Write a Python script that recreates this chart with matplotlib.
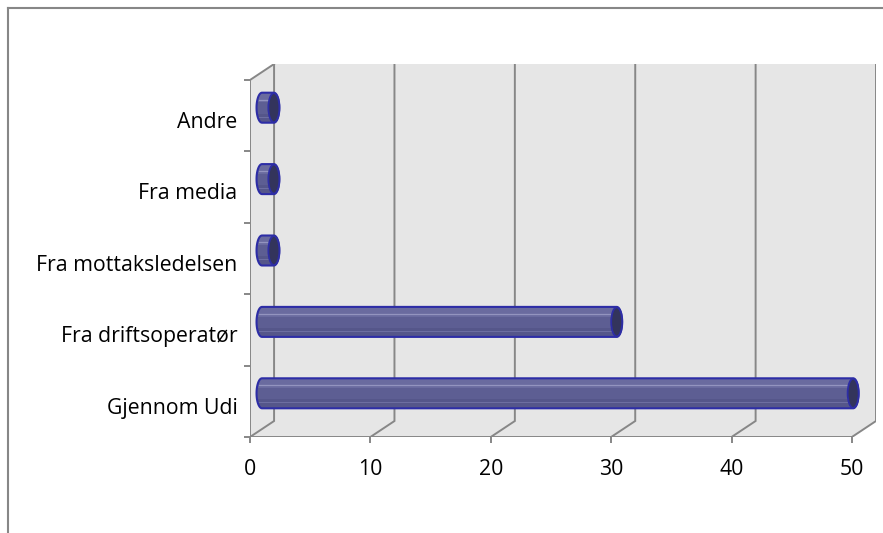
import numpy as np
import matplotlib
matplotlib.use("Agg")
import matplotlib.pyplot as plt
from matplotlib.patches import Polygon, Rectangle, Ellipse, PathPatch
from matplotlib.path import Path
from matplotlib.lines import Line2D
from matplotlib.transforms import Affine2D

# Survey answers: how the information was received
categories = ["Gjennom Udi", "Fra driftsoperatør", "Fra mottaksledelsen", "Fra media", "Andre"]
values = [50, 30, 1, 1, 1]
x_ticks = [0, 10, 20, 30, 40, 50]

W, H = 883, 533
fig = plt.figure(figsize=(W / 100, H / 100), dpi=100)
fig.patch.set_facecolor("white")

# outer chart-area frame (top and left edges)
frame_c = "#878787"
fig.add_artist(Line2D([8 / W, 8 / W], [0, 1 - 8 / H], transform=fig.transFigure,
                      color=frame_c, lw=1.5))
fig.add_artist(Line2D([8 / W, 1], [1 - 8 / H, 1 - 8 / H], transform=fig.transFigure,
                      color=frame_c, lw=1.5))

# axes box spans the front plane plus the depth of the 3-D walls
ax = fig.add_axes([250 / W, (H - 437) / H, 626 / W, 373 / H])
xmax = x_ticks[-1]
n = len(categories)
DX = 2.0                      # wall depth along x (data units)
DY = 80 / 357                 # wall depth along y (category units)
y0, y1 = -0.5, n - 0.5
ax.set_xlim(0, xmax + DX)
ax.set_ylim(y0, y1 + DY)
for s in ax.spines.values():
    s.set_visible(False)
ax.patch.set_alpha(0)

wall = "#e6e6e6"
grid_c = "#878787"
# back wall, side wall and floor
ax.add_patch(Rectangle((DX, y0 + DY), xmax, n, facecolor=wall, edgecolor="none", zorder=0))
ax.add_patch(Polygon([(0, y0), (0, y1), (DX, y1 + DY), (DX, y0 + DY)],
                     facecolor=wall, edgecolor="none", zorder=0))
ax.add_patch(Polygon([(0, y0), (xmax, y0), (xmax + DX, y0 + DY), (DX, y0 + DY)],
                     facecolor=wall, edgecolor="none", zorder=0))

# gridlines running across the floor and up the back wall
for t in x_ticks:
    ax.plot([t, t + DX, t + DX], [y0, y0 + DY, y1 + DY], color=grid_c, lw=1.4,
            zorder=1, solid_joinstyle="miter")
# front axis lines and top edge of the side wall
ax.plot([0, xmax], [y0, y0], color=grid_c, lw=1.4, zorder=1)
ax.plot([0, 0, DX], [y0, y1, y1 + DY], color=grid_c, lw=1.4, zorder=1)

font = "Open Sans"
fs = 15.3
ax.set_xticks(x_ticks)
ax.set_xticklabels([str(t) for t in x_ticks], fontsize=fs, family=font)
ax.tick_params(axis="x", direction="out", length=4, width=1.4, color=grid_c, pad=12)

ax.set_yticks(np.arange(n + 1) - 0.5)
ax.set_yticklabels([])
ax.tick_params(axis="y", which="major", direction="out", length=4, width=1.4, color=grid_c)
ax.set_yticks(np.arange(n) - 0.06, minor=True)
ax.set_yticklabels(categories, minor=True, fontsize=fs, family=font)
ax.tick_params(axis="y", which="minor", length=0, pad=9)

# bars sit in the middle depth plane
kx = 0.982
bar_tr = Affine2D().scale(kx, 1).translate(DX / 2, DY / 2) + ax.transData
px_x = 626 / (xmax + DX)
cw = 5.5 / (px_x * kx)        # half-width of the elliptical end caps
h = 0.42                      # bar thickness
edge_c = "#2d2da6"
body_c = "#5d5e93"
top_c = "#6a6b9f"
low_c = "#55568a"
cap_c = "#33345c"
hl_c = "#9394bf"

th = np.linspace(0, np.pi, 40)
for i, v in enumerate(values):
    yc = float(i)
    top, bot = yc + h / 2, yc - h / 2
    # outline: straight top/bottom edges, rounded left and right ends
    right = [(v + cw * np.sin(a), yc + (h / 2) * np.cos(a)) for a in th]
    left = [(-cw * np.sin(a), yc - (h / 2) * np.cos(a)) for a in th]
    verts = right + left + [right[0]]
    outline = Path(verts, closed=True)
    ax.add_patch(PathPatch(outline, facecolor=body_c, edgecolor="none",
                           transform=bar_tr, zorder=3))
    # shading bands
    band_top = PathPatch(outline, facecolor=top_c, edgecolor="none",
                         transform=bar_tr, zorder=3.1)
    ax.add_patch(band_top)
    band_top.set_clip_path(Rectangle((-cw, yc + h * 0.18), v + 2 * cw, h * 0.32,
                                     transform=bar_tr))
    band_low = PathPatch(outline, facecolor=low_c, edgecolor="none",
                         transform=bar_tr, zorder=3.1)
    ax.add_patch(band_low)
    band_low.set_clip_path(Rectangle((-cw, bot), v + 2 * cw, h * 0.3, transform=bar_tr))
    # thin highlight lines along the cylinder
    ax.plot([-cw * 0.6, v], [yc + h * 0.27, yc + h * 0.27], color=hl_c, lw=0.9,
            transform=bar_tr, zorder=3.2)
    ax.plot([-cw * 0.8, v], [yc - h * 0.3, yc - h * 0.3], color="#6e6fa2", lw=0.7,
            transform=bar_tr, zorder=3.2)
    ax.add_patch(PathPatch(outline, facecolor="none", edgecolor=edge_c, lw=1.5,
                           transform=bar_tr, zorder=3.4))
    # dark end face
    ax.add_patch(Ellipse((v, yc), 2 * cw, h * 0.97, facecolor=cap_c, edgecolor=edge_c,
                         lw=1.3, transform=bar_tr, zorder=3.5))

fig.savefig("out.png", dpi=100)
